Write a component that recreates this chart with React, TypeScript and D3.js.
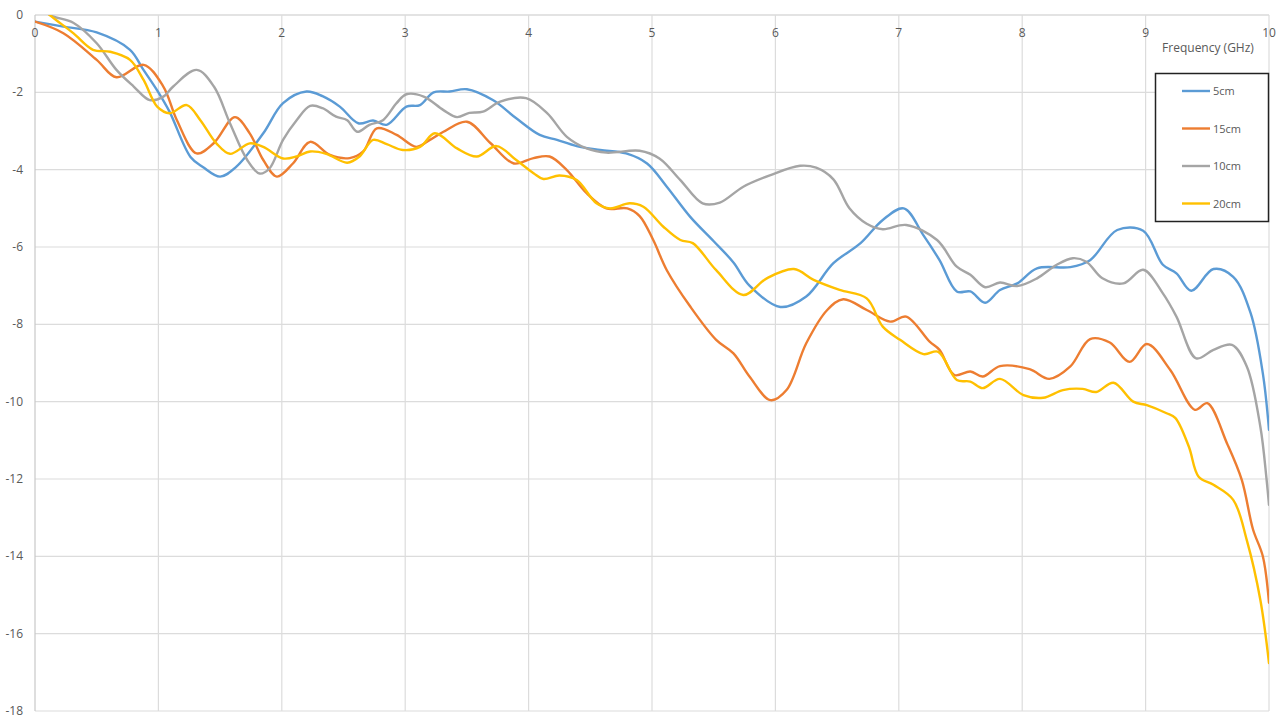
import React from "react";
import * as d3 from "d3";

const xTicks = [0, 1, 2, 3, 4, 5, 6, 7, 8, 9, 10];
const yTicks = [0, -2, -4, -6, -8, -10, -12, -14, -16, -18];
const seriesNames = ["5cm", "15cm", "10cm", "20cm"];
const seriesColors = ["#5B9BD5", "#ED7D31", "#A5A5A5", "#FFC000"];

const freq5 = [0, 0.23, 0.5, 0.77, 0.875, 0.99, 1.09, 1.26, 1.36, 1.5, 1.63, 1.85, 2.01, 2.2, 2.33, 2.47, 2.62, 2.74, 2.85, 3.01, 3.12, 3.23, 3.36, 3.5, 3.71, 3.9, 4.09, 4.23, 4.39, 4.58, 4.79, 4.96, 5.12, 5.31, 5.5, 5.66, 5.79, 6.04, 6.25, 6.47, 6.69, 6.87, 7.04, 7.2, 7.33, 7.47, 7.58, 7.7, 7.82, 7.96, 8.12, 8.39, 8.55, 8.77, 8.98, 9.14, 9.25, 9.37, 9.55, 9.71, 9.85, 9.95, 10];
const val5 = [-0.17, -0.3, -0.45, -0.9, -1.4, -1.95, -2.5, -3.67, -3.93, -4.18, -3.93, -3.06, -2.28, -1.98, -2.1, -2.37, -2.8, -2.73, -2.84, -2.37, -2.33, -2.0, -1.98, -1.92, -2.2, -2.67, -3.1, -3.23, -3.39, -3.49, -3.58, -3.84, -4.44, -5.22, -5.85, -6.4, -7.0, -7.55, -7.28, -6.42, -5.9, -5.3, -5.0, -5.7, -6.34, -7.15, -7.15, -7.44, -7.11, -6.94, -6.55, -6.52, -6.34, -5.56, -5.58, -6.46, -6.68, -7.13, -6.57, -6.77, -7.7, -9.27, -10.73];

const freq15 = [0, 0.23, 0.5, 0.66, 0.88, 1.04, 1.15, 1.31, 1.45, 1.62, 1.74, 1.85, 1.96, 2.09, 2.23, 2.39, 2.55, 2.66, 2.77, 2.93, 3.09, 3.2, 3.31, 3.5, 3.69, 3.88, 4.04, 4.17, 4.31, 4.47, 4.63, 4.8, 4.9, 5.01, 5.12, 5.31, 5.52, 5.66, 5.79, 5.96, 6.09, 6.25, 6.42, 6.55, 6.74, 6.93, 7.06, 7.25, 7.33, 7.45, 7.58, 7.68, 7.82, 8.06, 8.22, 8.39, 8.55, 8.71, 8.87, 9.01, 9.2, 9.4, 9.5, 9.66, 9.78, 9.87, 9.95, 10];
const val15 = [-0.17, -0.47, -1.16, -1.61, -1.29, -1.85, -2.72, -3.58, -3.31, -2.64, -3.06, -3.75, -4.18, -3.84, -3.28, -3.62, -3.7, -3.53, -2.93, -3.1, -3.41, -3.23, -3.02, -2.76, -3.31, -3.84, -3.7, -3.66, -4.01, -4.61, -5.0, -5.0, -5.2, -5.82, -6.6, -7.54, -8.4, -8.75, -9.35, -9.96, -9.7, -8.49, -7.63, -7.35, -7.63, -7.93, -7.8, -8.45, -8.66, -9.31, -9.22, -9.35, -9.08, -9.16, -9.41, -9.09, -8.38, -8.47, -8.97, -8.51, -9.18, -10.21, -10.04, -11.08, -12.03, -13.3, -14.0, -15.2];

const freq10 = [0, 0.12, 0.31, 0.5, 0.66, 0.8, 0.93, 1.04, 1.12, 1.31, 1.45, 1.58, 1.72, 1.82, 1.9, 2.01, 2.12, 2.23, 2.33, 2.44, 2.53, 2.61, 2.71, 2.82, 2.93, 3.01, 3.15, 3.31, 3.42, 3.52, 3.63, 3.77, 3.98, 4.15, 4.31, 4.47, 4.63, 4.9, 5.06, 5.23, 5.41, 5.55, 5.74, 5.96, 6.2, 6.33, 6.47, 6.6, 6.74, 6.87, 7.06, 7.31, 7.47, 7.58, 7.7, 7.82, 7.96, 8.12, 8.28, 8.41, 8.52, 8.65, 8.82, 8.98, 9.14, 9.25, 9.41, 9.55, 9.7, 9.82, 9.93, 9.98, 10];
const val10 = [0.35, 0, -0.2, -0.73, -1.42, -1.85, -2.2, -2.11, -1.85, -1.42, -1.85, -2.8, -3.75, -4.1, -3.97, -3.23, -2.72, -2.35, -2.41, -2.63, -2.72, -3.02, -2.84, -2.72, -2.28, -2.05, -2.11, -2.46, -2.64, -2.53, -2.5, -2.24, -2.15, -2.54, -3.15, -3.45, -3.56, -3.51, -3.71, -4.27, -4.87, -4.85, -4.44, -4.14, -3.9, -3.95, -4.25, -5.0, -5.4, -5.54, -5.43, -5.82, -6.51, -6.72, -7.04, -6.92, -7.01, -6.81, -6.46, -6.29, -6.38, -6.81, -6.94, -6.59, -7.2, -7.8, -8.88, -8.66, -8.53, -9.09, -10.65, -12.0, -12.67];

const freq20 = [0, 0.12, 0.31, 0.47, 0.61, 0.77, 0.88, 0.99, 1.09, 1.23, 1.34, 1.47, 1.58, 1.74, 1.85, 2.01, 2.12, 2.23, 2.36, 2.53, 2.63, 2.74, 2.85, 2.98, 3.12, 3.24, 3.42, 3.58, 3.74, 3.9, 4.04, 4.12, 4.25, 4.39, 4.55, 4.66, 4.82, 4.93, 5.09, 5.23, 5.33, 5.52, 5.74, 5.93, 6.15, 6.31, 6.52, 6.74, 6.87, 7.01, 7.2, 7.32, 7.47, 7.58, 7.68, 7.82, 8.01, 8.17, 8.33, 8.49, 8.6, 8.74, 8.9, 9.01, 9.17, 9.24, 9.35, 9.43, 9.55, 9.71, 9.82, 9.93, 10];
const val20 = [0.35, 0, -0.47, -0.9, -0.95, -1.16, -1.68, -2.37, -2.54, -2.33, -2.72, -3.32, -3.59, -3.32, -3.41, -3.71, -3.66, -3.53, -3.59, -3.82, -3.66, -3.23, -3.34, -3.49, -3.41, -3.06, -3.45, -3.66, -3.39, -3.75, -4.09, -4.24, -4.15, -4.27, -4.87, -5.0, -4.87, -4.96, -5.47, -5.82, -5.9, -6.6, -7.24, -6.81, -6.57, -6.85, -7.11, -7.33, -8.06, -8.4, -8.77, -8.71, -9.44, -9.48, -9.65, -9.41, -9.83, -9.9, -9.7, -9.67, -9.75, -9.51, -10.0, -10.09, -10.3, -10.42, -11.16, -11.94, -12.15, -12.54, -13.58, -15.13, -16.76];

const seriesFreqs = [freq5, freq15, freq10, freq20];
const seriesVals = [val5, val15, val10, val20];

export default function App() {
  const W = 1280, H = 722;
  const left = 35, right = 1269, top = 15, bottom = 711;
  const x = d3.scaleLinear().domain([0, 10]).range([left, right]);
  const y = d3.scaleLinear().domain([0, -18]).range([top, bottom]);
  const line = d3
    .line<[number, number]>()
    .x((d) => x(d[0]))
    .y((d) => y(d[1]))
    .curve(d3.curveCatmullRom.alpha(0.5));
  const textColor = "#595959";
  const font = "'Open Sans', 'Liberation Sans', Arial, sans-serif";

  return (
    <svg
      width={W}
      height={H}
      style={{ position: "fixed", left: 0, top: 0, background: "#fff" }}
      fontFamily={font}
    >
      <defs>
        <clipPath id="plotClip">
          <rect x={left} y={top} width={right - left} height={bottom - top} />
        </clipPath>
      </defs>
      <rect x={0} y={0} width={W} height={H} fill="#fff" />
      {yTicks.map((t) => (
        <line key={"h" + t} x1={left} x2={right} y1={y(t)} y2={y(t)} stroke={t === 0 ? "#c8c8c8" : "#dcdcdc"} strokeWidth={1.2} />
      ))}
      {xTicks.map((t) => (
        <line key={"v" + t} x1={x(t)} x2={x(t)} y1={top} y2={bottom} stroke={t === 0 ? "#c8c8c8" : "#dcdcdc"} strokeWidth={1.2} />
      ))}
      {xTicks.map((t) => (
        <text key={"xl" + t} x={x(t)} y={top + 22} textAnchor="middle" fontSize={12} fill={textColor}>
          {t}
        </text>
      ))}
      {yTicks.map((t) => (
        <text key={"yl" + t} x={left - 12} y={y(t) + 4} textAnchor="end" fontSize={12} fill={textColor}>
          {t === 0 ? "0" : "-" + Math.abs(t)}
        </text>
      ))}
      <g clipPath="url(#plotClip)">
        {seriesNames.map((name, i) => {
          const pts: [number, number][] = seriesFreqs[i].map((f, j) => [f, seriesVals[i][j]]);
          return (
            <path key={name} d={line(pts) || ""} fill="none" stroke={seriesColors[i]} strokeWidth={2.4} strokeLinejoin="round" strokeLinecap="round" />
          );
        })}
      </g>
      <text x={1208} y={52} textAnchor="middle" fontSize={12} fill={textColor}>
        Frequency (GHz)
      </text>
      <rect x={1155.5} y={73.5} width={113} height={148} fill="#fff" stroke="#222" strokeWidth={1.5} />
      {seriesNames.map((name, i) => {
        const cy = 91 + i * 37.5;
        return (
          <g key={"lg" + name}>
            <line x1={1182} x2={1210} y1={cy} y2={cy} stroke={seriesColors[i]} strokeWidth={2.4} />
            <text x={1213} y={cy + 4} fontSize={11} fill={textColor}>
              {name}
            </text>
          </g>
        );
      })}
    </svg>
  );
}
